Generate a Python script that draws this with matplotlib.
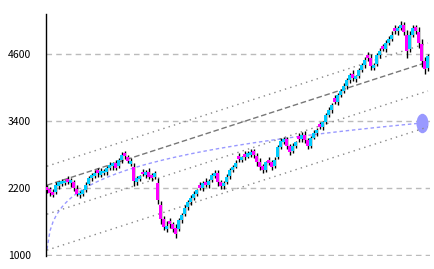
import numpy as np
import matplotlib
matplotlib.use("Agg")
import matplotlib.pyplot as plt
from matplotlib.path import Path
from matplotlib.transforms import Affine2D

# closing prices, one candle every ~3px of the reference
closes = [2160, 2110, 2080, 2250, 2300, 2320, 2330, 2310, 2345, 2200,
          2100, 2110, 2160, 2260, 2380, 2430, 2470, 2460, 2500, 2510,
          2560, 2610, 2640, 2560, 2700, 2790, 2780, 2680, 2690, 2320,
          2380, 2410, 2450, 2490, 2400, 2380, 2470, 1990, 1650, 1500,
          1520, 1560, 1470, 1380, 1620, 1710, 1840, 1950, 2020, 2100,
          2160, 2200, 2290, 2250, 2330, 2430, 2470, 2310, 2230, 2290,
          2400, 2520, 2580, 2650, 2720, 2750, 2760, 2820, 2840, 2790,
          2660, 2580, 2520, 2660, 2650, 2580, 2700, 2930, 3040, 3080,
          2960, 2850, 2950, 3020, 3080, 3150, 3060, 2950, 3100, 3180,
          3240, 3290, 3380, 3500, 3600, 3680, 3750, 3870, 3940, 4030,
          4130, 4220, 4180, 4200, 4320, 4400, 4490, 4530, 4380, 4400,
          4580, 4650, 4700, 4800, 4880, 4950, 5010, 5070, 5120, 5000,
          4650, 4950, 5070, 5020, 4800, 4480, 4330, 4560]
# close - open of each candle
bodies = [-60, -80, -40, 120, 70, 50, 40, -50, 60, -110,
          -90, 40, 70, 90, 100, 60, 50, -60, 70, 40,
          80, 60, 50, -90, 110, 90, -50, -80, 60, -250,
          70, 50, -40, 60, -90, -50, 80, -300, -250, -140,
          60, -50, -80, -100, 160, 90, 110, 100, 70, 80,
          60, -50, 90, -60, 80, 90, 50, -150, -80, 60,
          100, 110, 60, 70, -60, 50, -50, 60, 40, -70,
          -120, -80, -70, 130, -50, -80, 110, 180, 100, 60,
          -110, -100, 90, 70, -60, 80, -90, -110, 140, 80,
          60, -50, 90, 110, 100, 80, -70, 120, 70, 90,
          100, 90, -60, 50, 110, 80, 90, -60, -150, 50,
          160, 70, -50, 100, 80, 70, -60, 60, 50, -120,
          -300, 250, 120, -70, -200, -300, -150, 200]
wick_hi = [40, 30, 60, 50, 30, 40, 20, 50, 40, 30,
           60, 40, 30, 50, 40, 30, 60, 40, 50, 30,
           40, 60, 30, 50, 40, 60, 30, 40, 50, 70,
           40, 30, 50, 40, 60, 40, 30, 90, 60, 50,
           80, 60, 40, 70, 50, 40, 60, 30, 50, 40,
           30, 50, 40, 60, 30, 40, 50, 60, 40, 30,
           50, 40, 30, 60, 40, 30, 50, 40, 60, 40,
           50, 70, 40, 30, 60, 40, 50, 40, 60, 30,
           50, 40, 60, 30, 40, 50, 70, 40, 30, 60,
           40, 50, 30, 40, 60, 40, 50, 30, 40, 60,
           50, 40, 70, 30, 40, 50, 60, 40, 80, 50,
           40, 60, 30, 50, 40, 60, 50, 40, 70, 60,
           90, 70, 50, 40, 80, 100, 60, 50]
wick_lo = [50, 60, 40, 30, 50, 30, 40, 30, 60, 50,
           40, 50, 30, 40, 30, 50, 40, 60, 30, 40,
           50, 30, 60, 40, 30, 50, 60, 40, 30, 80,
           50, 40, 30, 60, 40, 50, 30, 70, 90, 60,
           50, 70, 60, 80, 40, 50, 30, 40, 60, 30,
           40, 30, 60, 40, 50, 30, 40, 70, 50, 40,
           30, 50, 40, 30, 50, 40, 60, 30, 40, 50,
           70, 60, 50, 40, 30, 60, 40, 30, 50, 40,
           60, 50, 40, 30, 50, 40, 60, 50, 40, 30,
           40, 30, 50, 40, 30, 50, 40, 60, 30, 40,
           50, 40, 60, 50, 30, 40, 50, 60, 70, 40,
           30, 50, 40, 60, 30, 40, 50, 60, 40, 50,
           120, 60, 40, 50, 90, 110, 80, 60]

# straight trend at first/last candle and its parallel bands
trend_ends = [2250, 4460]
band_offsets = [340, -520, -1165]
# long-term curve: scale * (t ** power)
curve_scale = 1357
curve_power = 0.188
yticks = [1000, 2200, 3400, 4600]

n = len(closes)
idx = np.arange(n)
c = np.array(closes, dtype=float)
o = c - np.array(bodies)
hi = np.maximum(o, c) + np.array(wick_hi)
lo = np.minimum(o, c) - np.array(wick_lo)
up = c >= o

fig = plt.figure(figsize=(4.34, 2.69), dpi=100)
ax = fig.add_axes([46 / 434, 13 / 269, 384 / 434, 242 / 269])

for y in yticks:
    ax.axhline(y, color="#bbbbbb", lw=1, ls=(0, (4, 3)), zorder=0)

curve = curve_scale * (idx + 0.33) ** curve_power
ax.plot(idx, curve, color="#9999ff", lw=1, ls=(0, (2.5, 2)), zorder=1)
ell = Path.unit_circle().transformed(Affine2D().scale(0.62, 1.0))
ax.plot([idx[-3]], [curve[-3]], marker=ell, ms=14, color="#9999ff", mec="none", zorder=1)

xs = [idx[0], idx[-1]]
ax.plot(xs, trend_ends, color="#777777", lw=1, ls=(0, (4, 2)), zorder=1)
for off in band_offsets:
    ax.plot(xs, [v + off for v in trend_ends], color="#888888", lw=1, ls=(0, (1, 3)), zorder=1)

ax.vlines(idx, lo, hi, color="black", lw=1.0, zorder=2)
ax.bar(idx[up], (c - o)[up], bottom=o[up], width=1.0, color="#00ccff", lw=0, zorder=3)
ax.bar(idx[~up], (c - o)[~up], bottom=o[~up], width=1.0, color="#ff00ff", lw=0, zorder=3)

ax.set_xlim(-0.33, n - 0.33)
ax.set_ylim(980, 5320)
ax.set_yticks(yticks)
ax.set_yticklabels([str(v) for v in yticks], family="Noto Sans CJK JP", fontsize=7.5)
ax.tick_params(axis="y", length=0, pad=11)
ax.set_xticks([])
for s in ["top", "right", "bottom"]:
    ax.spines[s].set_visible(False)
ax.spines["left"].set_color("black")
ax.spines["left"].set_linewidth(1)

fig.savefig("out.png", dpi=100)
